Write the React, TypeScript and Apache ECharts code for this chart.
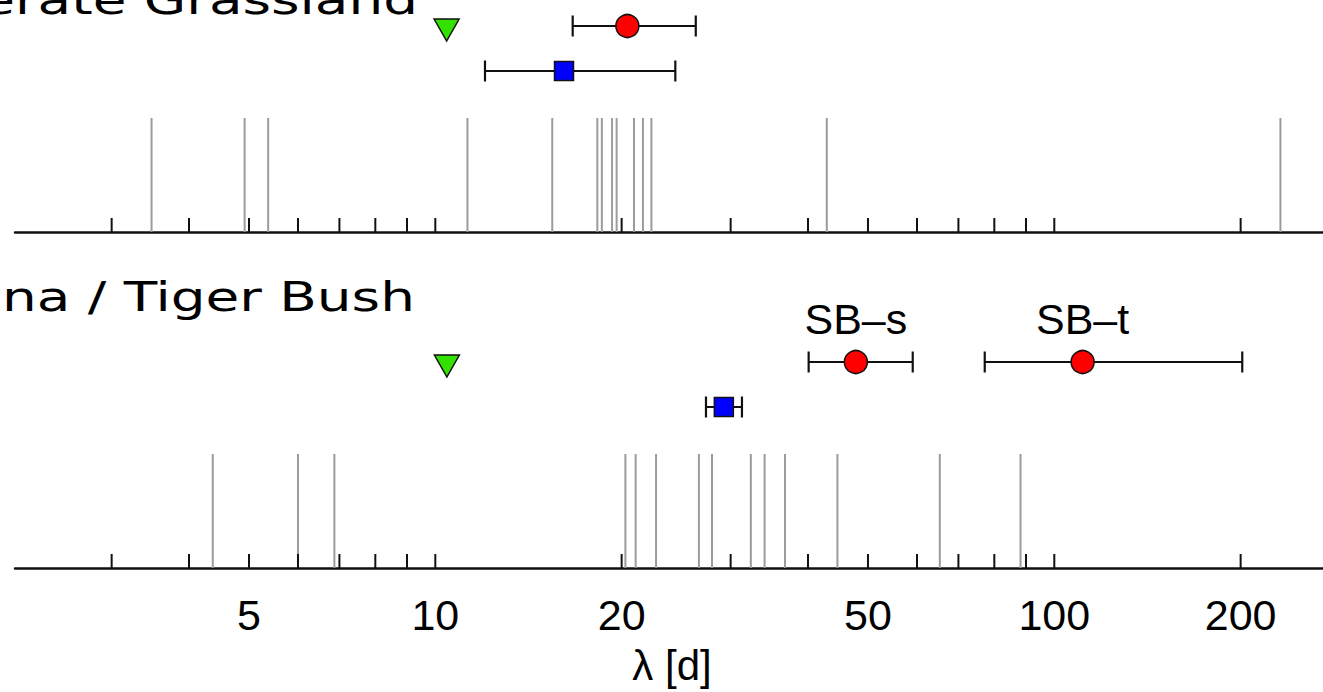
import React, { useEffect, useRef } from "react";
import * as echarts from "echarts";

// ---------------- data ----------------
const tickValues = [3, 4, 5, 6, 7, 8, 9, 10, 20, 30, 40, 50, 60, 70, 80, 90, 100, 200];
const tickLabels = [5, 10, 20, 50, 100, 200];

const grasslandRug = [3.48, 4.92, 5.37, 11.27, 15.45, 18.27, 18.58, 19.3, 19.63, 20.94, 21.65, 22.34, 42.9, 231.9];
const savannaRug = [4.37, 6.0, 6.87, 20.28, 21.07, 22.73, 26.66, 27.99, 32.34, 34.04, 36.72, 44.63, 65.32, 88.19];

const grasslandTriangle = [10.43];
const savannaTriangle = [10.44];

// [estimate, low, high]
const grasslandCircle = [[20.43, 16.67, 26.35]];
const grasslandSquare = [[16.14, 12.03, 24.42]];
const savannaCircle = [
  [47.8, 40.1, 59.06],
  [111.1, 77.2, 201.2],
];
const savannaCircleNames = ["SB–s", "SB–t"];
const savannaSquare = [[29.25, 27.37, 31.29]];

const panelTitles = ["erate Grassland", "na / Tiger Bush"];
const xAxisName = "λ [d]";

// ---------------- layout ----------------
const X_MIN = 2.094;
const X_MAX = 271.7;
const RUG = 114;
const TICK = 14;
const CIRCLE_Y = 206;
const SQUARE_Y = 161;
const TRI_Y = 202;
const LABEL_Y = 249;
const CAP = 10.5;
const HELV = '"Liberation Sans", Arial, Helvetica, sans-serif';
const TITLE_FONT_FAMILY = '"DejaVu Sans", sans-serif';
const TITLE_SIZE = 40;

function measure(text: string, font: string): number {
  const c = document.createElement("canvas");
  const ctx = c.getContext("2d");
  if (!ctx) return text.length * 20;
  ctx.font = font;
  return ctx.measureText(text).width;
}

function vlineSeries(gridIndex: number, values: number[], height: number, color: string, width: number, z: number) {
  return {
    type: "custom",
    xAxisIndex: gridIndex,
    yAxisIndex: gridIndex,
    z,
    silent: true,
    data: values.map((v) => [v, 0]),
    encode: { x: 0, y: 1 },
    renderItem: (params: any, api: any) => {
      const p0 = api.coord([api.value(0), 0]);
      const p1 = api.coord([api.value(0), height]);
      return {
        type: "line",
        shape: { x1: p0[0], y1: p0[1], x2: p1[0], y2: p1[1] },
        style: { stroke: color, lineWidth: width },
      };
    },
  };
}

function errorBarSeries(gridIndex: number, rows: number[][], level: number, kind: "circle" | "square", names?: string[]) {
  return {
    type: "custom",
    xAxisIndex: gridIndex,
    yAxisIndex: gridIndex,
    z: 10,
    silent: true,
    data: rows.map((r) => [r[0], r[1], r[2], level]),
    encode: { x: [0, 1, 2], y: 3 },
    renderItem: (params: any, api: any) => {
      const c = api.coord([api.value(0), level]);
      const lo = api.coord([api.value(1), level]);
      const hi = api.coord([api.value(2), level]);
      const lineStyle = { stroke: "#111", lineWidth: 2.2 };
      const children: any[] = [
        { type: "line", shape: { x1: lo[0], y1: c[1], x2: hi[0], y2: c[1] }, style: lineStyle },
        { type: "line", shape: { x1: lo[0], y1: c[1] - CAP, x2: lo[0], y2: c[1] + CAP }, style: lineStyle },
        { type: "line", shape: { x1: hi[0], y1: c[1] - CAP, x2: hi[0], y2: c[1] + CAP }, style: lineStyle },
      ];
      if (kind === "circle") {
        children.push({
          type: "circle",
          shape: { cx: c[0], cy: c[1], r: 11.5 },
          style: { fill: "#ff0000", stroke: "#111", lineWidth: 1.5 },
        });
      } else {
        children.push({
          type: "rect",
          shape: { x: c[0] - 9.5, y: c[1] - 9.5, width: 19, height: 19 },
          style: { fill: "#0000ff", stroke: "#111", lineWidth: 1.5 },
        });
      }
      if (names) {
        const t = api.coord([api.value(0), LABEL_Y]);
        children.push({
          type: "text",
          style: {
            text: names[params.dataIndex],
            x: c[0],
            y: t[1],
            align: "center",
            verticalAlign: "middle",
            font: `43px ${HELV}`,
            fill: "#000",
          },
        });
      }
      return { type: "group", children };
    },
  };
}

function triangleSeries(gridIndex: number, values: number[]) {
  return {
    type: "custom",
    xAxisIndex: gridIndex,
    yAxisIndex: gridIndex,
    z: 10,
    silent: true,
    data: values.map((v) => [v, TRI_Y]),
    encode: { x: 0, y: 1 },
    renderItem: (params: any, api: any) => {
      const c = api.coord([api.value(0), api.value(1)]);
      return {
        type: "polygon",
        shape: {
          points: [
            [c[0] - 12.5, c[1] - 11],
            [c[0] + 12.5, c[1] - 11],
            [c[0], c[1] + 11],
          ],
        },
        style: { fill: "#33e000", stroke: "#111", lineWidth: 1.5, lineJoin: "miter" },
      };
    },
  };
}

function tickLabelSeries(gridIndex: number, values: number[]) {
  return {
    type: "custom",
    xAxisIndex: gridIndex,
    yAxisIndex: gridIndex,
    z: 10,
    silent: true,
    data: values.map((v) => [v, 0]),
    encode: { x: 0, y: 1 },
    renderItem: (params: any, api: any) => {
      const c = api.coord([api.value(0), 0]);
      return {
        type: "text",
        style: {
          text: String(values[params.dataIndex]),
          x: c[0],
          y: c[1] + 47,
          align: "center",
          verticalAlign: "middle",
          font: `43px ${HELV}`,
          fill: "#000",
        },
      };
    },
  };
}

export default function App() {
  const ref = useRef<HTMLDivElement>(null);

  useEffect(() => {
    if (!ref.current) return;
    const chart = echarts.init(ref.current, undefined, { renderer: "svg" });

    const titleFont = `${TITLE_SIZE}px ${TITLE_FONT_FAMILY}`;
    const natural = measure(panelTitles[1], titleFont);
    const scaleX = 413 / natural;

    const grids = [
      { left: 15, right: 0, top: 2, height: 230 },
      { left: 15, right: 0, top: 338, height: 230 },
    ];
    const xAxes = grids.map((_, i) => ({
      type: "log",
      logBase: 10,
      gridIndex: i,
      min: X_MIN,
      max: X_MAX,
      axisLine: { show: true, lineStyle: { color: "#111", width: 2.5 } },
      axisTick: { show: false },
      axisLabel: { show: false },
      splitLine: { show: false },
      minorTick: { show: false },
    }));
    const yAxes = grids.map((_, i) => ({
      type: "value",
      gridIndex: i,
      min: 0,
      max: 230,
      show: false,
    }));

    const option: any = {
      animation: false,
      backgroundColor: "#ffffff",
      grid: grids,
      xAxis: xAxes,
      yAxis: yAxes,
      series: [
        vlineSeries(0, grasslandRug, RUG, "#9c9c9c", 2, 2),
        vlineSeries(1, savannaRug, RUG, "#9c9c9c", 2, 2),
        vlineSeries(0, tickValues, TICK, "#111", 2, 3),
        vlineSeries(1, tickValues, TICK, "#111", 2, 3),
        triangleSeries(0, grasslandTriangle),
        errorBarSeries(0, grasslandCircle, CIRCLE_Y, "circle"),
        errorBarSeries(0, grasslandSquare, SQUARE_Y, "square"),
        triangleSeries(1, savannaTriangle),
        errorBarSeries(1, savannaCircle, CIRCLE_Y, "circle", savannaCircleNames),
        errorBarSeries(1, savannaSquare, SQUARE_Y, "square"),
        tickLabelSeries(1, tickLabels),
      ],
      graphic: [
        {
          type: "text",
          x: 418,
          y: 0,
          scaleX,
          style: { text: panelTitles[0], x: 0, y: 0, align: "right", verticalAlign: "middle", font: titleFont, fill: "#000" },
        },
        {
          type: "text",
          x: 2,
          y: 297,
          scaleX,
          style: { text: panelTitles[1], x: 0, y: 0, align: "left", verticalAlign: "middle", font: titleFont, fill: "#000" },
        },
        {
          type: "text",
          x: 672,
          y: 665,
          style: { text: xAxisName, x: 0, y: 0, align: "center", verticalAlign: "middle", font: `42px ${HELV}`, fill: "#000" },
        },
      ],
    };
    chart.setOption(option);
    return () => chart.dispose();
  }, []);

  return (
    <div
      ref={ref}
      style={{ position: "absolute", left: 0, top: 0, width: 1323, height: 692, background: "#fff" }}
    />
  );
}
